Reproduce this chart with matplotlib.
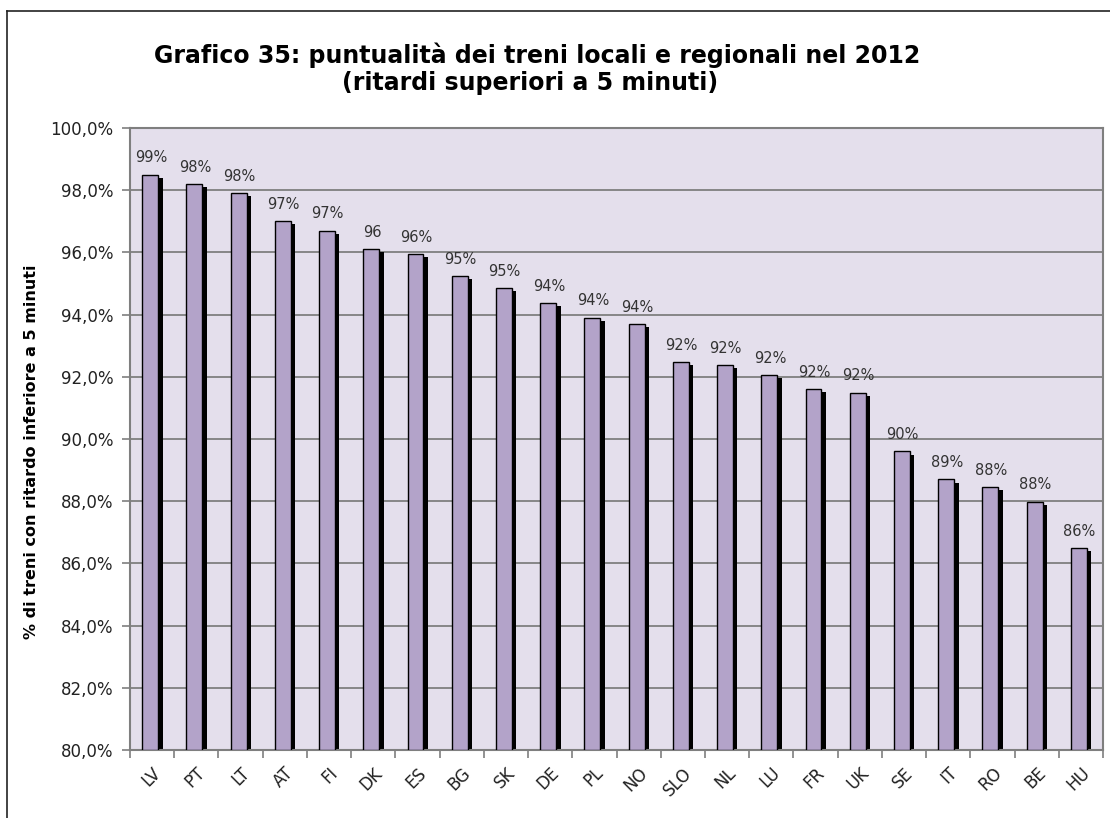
import matplotlib
matplotlib.use("Agg")
import matplotlib.pyplot as plt
from matplotlib.lines import Line2D
import numpy as np

# data
countries = ["LV", "PT", "LT", "AT", "FI", "DK", "ES", "BG", "SK", "DE", "PL",
             "NO", "SLO", "NL", "LU", "FR", "UK", "SE", "IT", "RO", "BE", "HU"]
punctuality = [98.5, 98.2, 97.9, 97.0, 96.7, 96.1, 95.95, 95.24, 94.85, 94.37, 93.9,
               93.7, 92.47, 92.38, 92.06, 91.6, 91.49, 89.6, 88.7, 88.45, 87.98, 86.5]
value_labels = ["99%", "98%", "98%", "97%", "97%", "96", "96%", "95%", "95%", "94%", "94%",
                "94%", "92%", "92%", "92%", "92%", "92%", "90%", "89%", "88%", "88%", "86%"]
yticks = [80, 82, 84, 86, 88, 90, 92, 94, 96, 98, 100]

BAR = "#b3a3c9"
BG = "#e4dfec"
GRID = "#7f7f7f"

fig = plt.figure(figsize=(11.10, 8.18), dpi=100)
ax = fig.add_axes([130 / 1110, 68 / 818, 973 / 1110, 622 / 818])

x = np.arange(len(countries))
width = 0.36
base = 80.0
vals = np.array(punctuality)

# black drop shadow behind every bar
ax.bar(x + 0.055, vals - 0.1 - base, width, bottom=base, color="black", zorder=2)
ax.bar(x - 0.045, vals - base, width, bottom=base, color=BAR, edgecolor="black",
       linewidth=1.0, zorder=3)

for xi, v, lab in zip(x, vals, value_labels):
    ax.text(xi - 0.03, v + 0.3, lab, ha="center", va="bottom", fontsize=10.5,
            color="#333333", zorder=4)

ax.set_xlim(-0.5, len(countries) - 0.5)
ax.set_ylim(80, 100)
ax.set_facecolor(BG)
ax.set_yticks(yticks)
ax.set_yticklabels([f"{t:.1f}%".replace(".", ",") for t in yticks], fontsize=12, color="#222222")
ax.set_xticks(np.arange(len(countries) + 1) - 0.5, minor=False)
ax.set_xticklabels([""] * (len(countries) + 1))
ax.set_xticks(x, minor=True)
ax.set_xticklabels(countries, minor=True, rotation=45, ha="right",
                   rotation_mode="anchor", fontsize=12, color="#222222")
ax.tick_params(axis="x", which="minor", length=0, pad=10)
ax.tick_params(axis="x", which="major", length=6, color=GRID, width=1.2)
ax.tick_params(axis="y", length=6, color=GRID, width=1.2, pad=6)
ax.grid(axis="y", color=GRID, linewidth=1.3, zorder=1)
ax.set_axisbelow(True)
for side in ax.spines.values():
    side.set_color(GRID)
    side.set_linewidth(1.5)

fig.text(32 / 1110, 1 - 452 / 818, "% di treni con ritardo inferiore a 5 minuti",
         rotation=90, ha="center", va="center", fontsize=11.5, fontweight="bold")
fig.text(537 / 1110, 1 - 55 / 818, "Grafico 35: puntualità dei treni locali e regionali nel 2012",
         ha="center", va="center", fontsize=17, fontweight="bold")
fig.text(530 / 1110, 1 - 83 / 818, "(ritardi superiori a 5 minuti)",
         ha="center", va="center", fontsize=17, fontweight="bold")

# outer frame (top and left edges visible)
fig.add_artist(Line2D([7 / 1110, 1.0], [1 - 11 / 818, 1 - 11 / 818],
                      transform=fig.transFigure, color="#222222", linewidth=1.2))
fig.add_artist(Line2D([7 / 1110, 7 / 1110], [0.0, 1 - 11 / 818],
                      transform=fig.transFigure, color="#222222", linewidth=1.2))

fig.savefig("out.png", dpi=100)
